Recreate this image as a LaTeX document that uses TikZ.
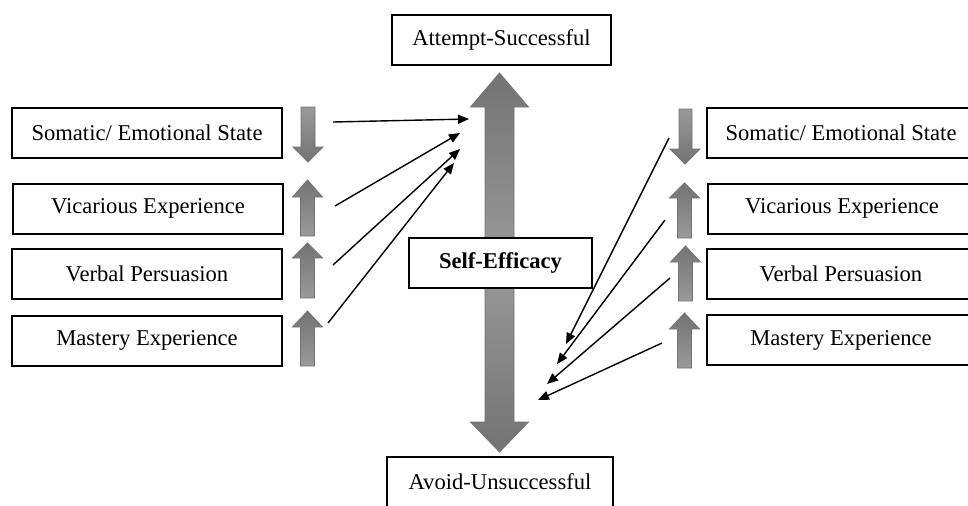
\documentclass[tikz,border=0pt]{standalone}
\usepackage{fontspec}
\setmainfont{Liberation Serif}
\usetikzlibrary{arrows.meta}

\definecolor{tipgray}{HTML}{737373}
\definecolor{tailgray}{HTML}{9A9A9A}

\begin{document}
\begin{tikzpicture}[
  x=0.5pt, y=-0.5pt,
  box/.style={draw, line width=1pt, align=center, inner sep=0pt,
              minimum width=135pt, minimum height=25pt,
              font=\fontsize{11.3}{13}\selectfont},
  upbar/.style={draw=black!55, line width=0.4pt, top color=tipgray, bottom color=tailgray},
  downbar/.style={draw=black!55, line width=0.4pt, top color=tailgray, bottom color=tipgray},
  conn/.style={line width=0.7pt, -{Triangle[length=5.5pt,width=4.5pt]}}
]
\useasboundingbox (0,0) rectangle (968,505);

% big arrow, two halves meeting behind the centre box
\path[upbar] (485,263) -- (485,107) -- (470.5,107) -- (499.5,73) -- (528.5,107)
  -- (514,107) -- (514,263) -- cycle;
\path[downbar] (485,262) -- (485,422) -- (470.5,422) -- (499.5,452) -- (528.5,422)
  -- (514,422) -- (514,262) -- cycle;

\node[box, fill=white, minimum width=109.5pt] (att) at (501.5,39.5) {Attempt-Successful};
\node[box, fill=white, minimum width=113pt] (avd) at (500,482) {Avoid-Unsuccessful};
\node[box, fill=white, minimum width=91.5pt, font=\fontsize{11.3}{13}\selectfont\bfseries]
  (se) at (500.5,262.5) {Self-Efficacy};

% left column
\node[box] (lsom) at (147,132.5) {Somatic/ Emotional State};
\node[box] (lvic) at (148,208.5) {Vicarious Experience};
\node[box] (lver) at (147,273.5) {Verbal Persuasion};
\node[box] (lmas) at (147,340.5) {Mastery Experience};

% right column
\node[box, minimum width=134pt] (rsom) at (841,132.5) {Somatic/ Emotional State};
\node[box, minimum width=134pt] (rvic) at (842,208.5) {Vicarious Experience};
\node[box, minimum width=134pt] (rver) at (841,273.5) {Verbal Persuasion};
\node[box, minimum width=134pt] (rmas) at (841,340) {Mastery Experience};

% small block arrows, left
\path[downbar] (301,107) -- (301,147) -- (293,147) -- (308,162) -- (323,147)
  -- (315,147) -- (315,107) -- cycle;
\path[upbar] (300.5,236) -- (300.5,197) -- (292.5,197) -- (307.5,180) -- (322.5,197)
  -- (314.5,197) -- (314.5,236) -- cycle;
\path[upbar] (300.5,298) -- (300.5,258) -- (292.5,258) -- (307.5,243) -- (322.5,258)
  -- (314.5,258) -- (314.5,298) -- cycle;
\path[upbar] (300.5,366) -- (300.5,327) -- (292.5,327) -- (307.5,311) -- (322.5,327)
  -- (314.5,327) -- (314.5,366) -- cycle;

% small block arrows, right
\path[downbar] (679,109) -- (679,149) -- (670,149) -- (685,164) -- (700,149)
  -- (692,149) -- (692,109) -- cycle;
\path[upbar] (677.5,238) -- (677.5,198) -- (669.5,198) -- (684.5,183) -- (699.5,198)
  -- (691.5,198) -- (691.5,238) -- cycle;
\path[upbar] (678.5,301) -- (678.5,262) -- (670.5,262) -- (685.5,246) -- (700.5,262)
  -- (692.5,262) -- (692.5,301) -- cycle;
\path[upbar] (677.5,368) -- (677.5,329) -- (669.5,329) -- (684.5,313) -- (699.5,329)
  -- (691.5,329) -- (691.5,368) -- cycle;

% ends of the thin arrows
\coordinate (lsom-s) at (333,122);
\coordinate (lvic-s) at (335,206);
\coordinate (lver-s) at (333,265);
\coordinate (lmas-s) at (328,323);
\coordinate (up-a) at (469,119);
\coordinate (up-b) at (460,133);
\coordinate (up-c) at (460,149);
\coordinate (up-d) at (454,163);

\coordinate (rsom-s) at (669,138);
\coordinate (rvic-s) at (665,220);
\coordinate (rver-s) at (670,278);
\coordinate (rmas-s) at (662,343);
\coordinate (dn-a) at (566,344);
\coordinate (dn-b) at (557,364);
\coordinate (dn-c) at (547,384);
\coordinate (dn-d) at (538,400);

\draw[conn] (lsom-s) -- (up-a);
\draw[conn] (lvic-s) -- (up-b);
\draw[conn] (lver-s) -- (up-c);
\draw[conn] (lmas-s) -- (up-d);

\draw[conn] (rsom-s) -- (dn-a);
\draw[conn] (rvic-s) -- (dn-b);
\draw[conn] (rver-s) -- (dn-c);
\draw[conn] (rmas-s) -- (dn-d);
\end{tikzpicture}
\end{document}
